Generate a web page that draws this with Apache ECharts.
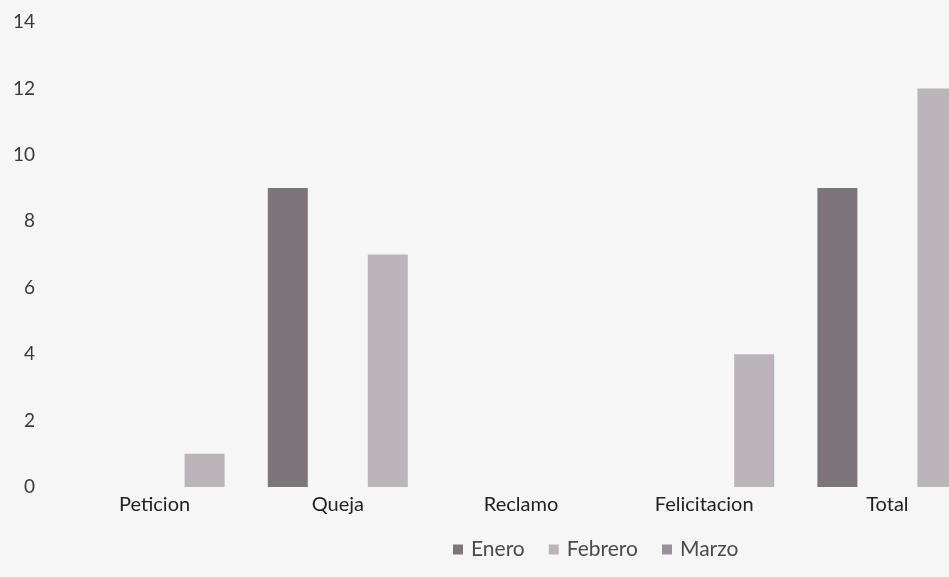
<!DOCTYPE html>
<html>
<head>
<meta charset="utf-8">
<script src="https://cdn.jsdelivr.net/npm/echarts@6/dist/echarts.min.js"></script>
<style>
  html, body { margin: 0; padding: 0; background: #f7f6f6; }
  #main { width: 949px; height: 577px; }
</style>
</head>
<body>
<div id="main"></div>
<script>
// datos
const categorias = ['Peticion', 'Queja', 'Reclamo', 'Felicitacion', 'Total'];
const enero = [0, 9, 0, 0, 9];
const febrero = [1, 7, 0, 4, 12];
const marzo = [0, 0, 0, 0, 0];
const ticksY = [0, 2, 4, 6, 8, 10, 12, 14];

const chart = echarts.init(document.getElementById('main'), null, { renderer: 'canvas' });

const option = {
  backgroundColor: '#f7f6f6',
  textStyle: { fontFamily: 'Lato' },
  grid: { left: 63, right: -30, top: 22, bottom: 90, outerBoundsMode: 'none', containLabel: false },
  legend: {
    bottom: 12,
    left: 448,
    icon: 'rect',
    itemWidth: 10,
    itemHeight: 10,
    itemGap: 24,
    textStyle: { fontSize: 21, color: '#4a4a4a', padding: [0, 0, 0, 3] },
    data: ['Enero', 'Febrero', 'Marzo']
  },
  xAxis: [{
    type: 'category',
    data: categorias,
    axisLine: { show: false },
    axisTick: { show: false },
    axisLabel: { fontSize: 20, color: '#222', margin: 8 }
  }, {
    type: 'category',
    data: categorias,
    show: false
  }],
  yAxis: {
    type: 'value',
    min: ticksY[0],
    max: ticksY[ticksY.length - 1],
    interval: 2,
    splitLine: { show: false },
    axisLine: { show: false },
    axisTick: { show: false },
    axisLabel: { fontSize: 19, color: '#3a3a3a', margin: 28 }
  },
  series: [
    {
      name: 'Enero', type: 'bar', data: enero,
      barWidth: 40, barGap: '150%',
      itemStyle: { color: '#7c767a' }
    },
    {
      name: 'Febrero', type: 'bar', data: febrero,
      barWidth: 40,
      itemStyle: { color: '#bbb5b9' }
    },
    {
      // Marzo sin datos, en otro eje para no ocupar espacio
      name: 'Marzo', type: 'bar', data: marzo, xAxisIndex: 1,
      barWidth: 40,
      itemStyle: { color: '#98929a' }
    }
  ]
};

chart.setOption(option);
</script>
</body>
</html>
